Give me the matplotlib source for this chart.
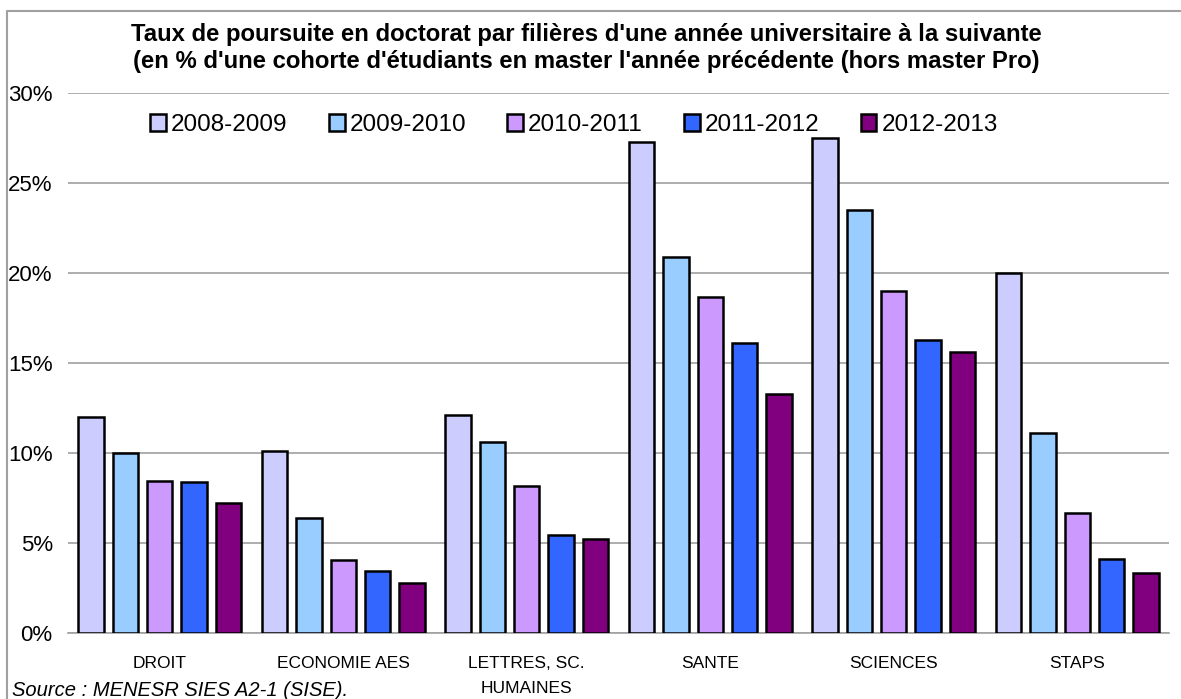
#!/usr/bin/env python3
import matplotlib
matplotlib.use('Agg')
import matplotlib.pyplot as plt
from matplotlib.lines import Line2D
import numpy as np

plt.rcParams['font.family'] = ['Liberation Sans', 'DejaVu Sans']

# Data
categories = ['DROIT', 'ECONOMIE AES', 'LETTRES, SC.\nHUMAINES', 'SANTE', 'SCIENCES', 'STAPS']
years = ['2008-2009', '2009-2010', '2010-2011', '2011-2012', '2012-2013']
rates_2008 = [12.0, 10.1, 12.1, 27.25, 27.5, 20.0]
rates_2009 = [10.0, 6.4, 10.6, 20.9, 23.5, 11.1]
rates_2010 = [8.45, 4.05, 8.15, 18.65, 19.0, 6.7]
rates_2011 = [8.4, 3.45, 5.45, 16.1, 16.3, 4.1]
rates_2012 = [7.25, 2.8, 5.25, 13.3, 15.6, 3.35]
series = [rates_2008, rates_2009, rates_2010, rates_2011, rates_2012]
colors = ['#CCCCFF', '#99CCFF', '#CC99FF', '#3366FF', '#800080']

W, H = 1181, 699
fig = plt.figure(figsize=(W / 100, H / 100), dpi=100)
ax = fig.add_axes([68 / W, (H - 633.3) / H, (1169 - 68) / W, (633.3 - 92.7) / H])

x = np.arange(len(categories))
step = 0.1875
width = 0.138
for i, (vals, yr, col) in enumerate(zip(series, years, colors)):
    ax.bar(x + (i - 2) * step, vals, width, color=col, edgecolor='black',
           linewidth=1.8, label=yr, zorder=3)

ax.set_xlim(-0.5, len(categories) - 0.5)
ax.set_ylim(0, 30)
ax.set_yticks(np.arange(0, 31, 5))
ax.set_yticklabels([f'{v}%' for v in range(0, 31, 5)])
ax.set_xticks(x)
ax.set_xticklabels(categories, linespacing=1.85)
ax.tick_params(axis='y', length=0, pad=11, labelsize=16)
ax.tick_params(axis='x', length=0, pad=16, labelsize=12.5)
ax.yaxis.grid(True, color='#A0A0A0', linewidth=1.2, zorder=0)
for side in ['left', 'right', 'top']:
    ax.spines[side].set_visible(False)
ax.spines['bottom'].set_color('#A0A0A0')
ax.spines['bottom'].set_linewidth(1.2)

fig.text(0.5 * (132 + 1040) / W, 1 - 48 / H,
         "Taux de poursuite en doctorat par filières d'une année universitaire à la suivante\n"
         "(en % d'une cohorte d'étudiants en master l'année précédente (hors master Pro)",
         ha='center', va='center', fontsize=17.2, fontweight='bold', linespacing=1.22)

ax.legend(loc='center', bbox_to_anchor=((152 + 996) / 2 / W, 1 - 125 / H),
          bbox_transform=fig.transFigure, ncol=5, frameon=False, fontsize=17.5,
          handlelength=0.65, handleheight=0.65, handletextpad=0.2, columnspacing=1.7)

fig.text(12 / W, 1 - 691 / H, 'Source : MENESR SIES A2-1 (SISE).', ha='left', va='center',
         fontsize=14.5, style='italic')

# outer frame (top and left edges)
fig.add_artist(Line2D([6.7 / W, 6.7 / W, 1], [0, 1 - 10.7 / H, 1 - 10.7 / H],
                      transform=fig.transFigure, color='#A0A0A0', linewidth=1.5))

fig.savefig('out.png', dpi=100)
